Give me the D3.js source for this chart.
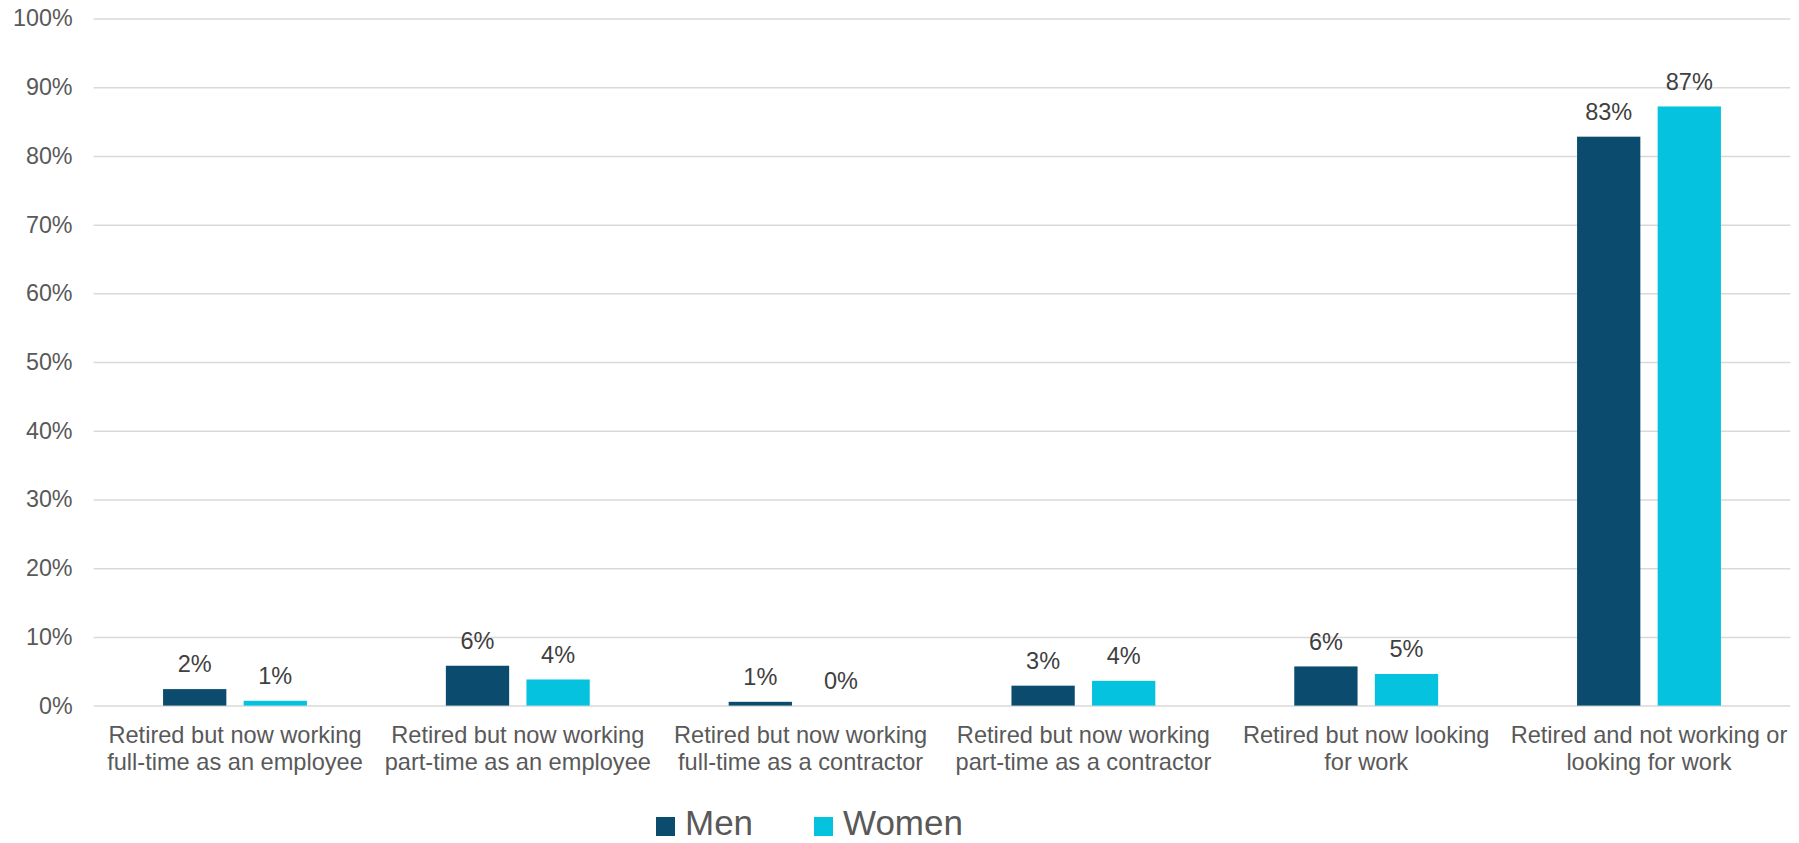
<!DOCTYPE html>
<html>
<head>
<meta charset="utf-8">
<script src="https://cdn.jsdelivr.net/npm/d3@7/dist/d3.min.js"></script>
<style>
  html, body { margin: 0; padding: 0; background: #ffffff; }
  svg { display: block; font-family: "Liberation Sans", Arial, sans-serif; }
</style>
</head>
<body>
<svg id="chart" width="1799" height="843"></svg>
<script>
// Employment status after retirement, by gender (share of respondents, %)
const categories = [
  "Retired but now working\nfull-time as an employee",
  "Retired but now working\npart-time as an employee",
  "Retired but now working\nfull-time as a contractor",
  "Retired but now working\npart-time as a contractor",
  "Retired but now looking\nfor work",
  "Retired and not working or\nlooking for work"
];
const seriesNames = ["Men", "Women"];
const menValues   = [2.4, 5.8, 0.55, 2.9, 5.7, 82.8];
const womenValues = [0.7, 3.8, 0.0, 3.6, 4.6, 87.2];
const yTicks = [0, 10, 20, 30, 40, 50, 60, 70, 80, 90, 100];
const colors = ["#0A4B6E", "#05C3DE"];

const svg = d3.select("#chart");
const margin = { left: 93.6, right: 1790.4, top: 18.5, bottom: 705.6 };

const x0 = d3.scaleBand()
  .domain(categories)
  .range([margin.left, margin.right])
  .paddingInner(0)
  .paddingOuter(0);

const x1 = d3.scaleBand()
  .domain(seriesNames)
  .range([0, x0.bandwidth()])
  .paddingInner(0.2146)
  .paddingOuter(0.862);

const y = d3.scaleLinear()
  .domain([0, 100])
  .range([margin.bottom, margin.top]);

const color = d3.scaleOrdinal().domain(seriesNames).range(colors);

// Gridlines and y-axis labels
const yAxis = d3.axisLeft(y)
  .tickValues(yTicks)
  .tickFormat(d => d + "%")
  .tickSize(-(margin.right - margin.left))
  .tickPadding(21);

const yg = svg.append("g")
  .attr("transform", `translate(${margin.left},0)`)
  .call(yAxis);
yg.select(".domain").remove();
yg.selectAll(".tick line")
  .attr("stroke", "#D9D9D9")
  .attr("stroke-width", 1.5);
yg.selectAll(".tick text")
  .attr("fill", "#595959")
  .attr("font-size", "23.3px")
  .attr("font-family", "\"Liberation Sans\", Arial, sans-serif");

// Bars
const rows = categories.map((c, i) => ({
  category: c,
  values: [
    { series: "Men", value: menValues[i] },
    { series: "Women", value: womenValues[i] }
  ]
}));

const fmt = v => Math.round(v) + "%";

const groups = svg.append("g")
  .selectAll("g")
  .data(rows)
  .join("g")
  .attr("transform", d => `translate(${x0(d.category)},0)`);

groups.selectAll("rect")
  .data(d => d.values)
  .join("rect")
  .attr("x", d => x1(d.series))
  .attr("width", x1.bandwidth())
  .attr("y", d => y(d.value))
  .attr("height", d => y(0) - y(d.value))
  .attr("fill", d => color(d.series));

// Value labels above bars
groups.selectAll("text.value")
  .data(d => d.values)
  .join("text")
  .attr("class", "value")
  .attr("x", d => x1(d.series) + x1.bandwidth() / 2)
  .attr("y", d => y(d.value) - 16.8)
  .attr("text-anchor", "middle")
  .attr("fill", "#404040")
  .attr("font-size", "23.5px")
  .text(d => fmt(d.value));

// Category labels (two lines each)
const xg = svg.append("g");
categories.forEach(c => {
  const lines = c.split("\n");
  const t = xg.append("text")
    .attr("x", x0(c) + x0.bandwidth() / 2)
    .attr("y", 743)
    .attr("text-anchor", "middle")
    .attr("fill", "#595959")
    .attr("font-size", "23.6px");
  lines.forEach((ln, j) => {
    t.append("tspan")
      .attr("x", x0(c) + x0.bandwidth() / 2)
      .attr("dy", j === 0 ? 0 : 27)
      .text(ln);
  });
});

// Legend
const legend = svg.append("g");
const legendX = [656, 814];
seriesNames.forEach((s, i) => {
  legend.append("rect")
    .attr("x", legendX[i])
    .attr("y", 817)
    .attr("width", 19)
    .attr("height", 19)
    .attr("fill", color(s));
  legend.append("text")
    .attr("x", legendX[i] + 29)
    .attr("y", 835)
    .attr("fill", "#595959")
    .attr("font-size", "35px")
    .text(s);
});
</script>
</body>
</html>
